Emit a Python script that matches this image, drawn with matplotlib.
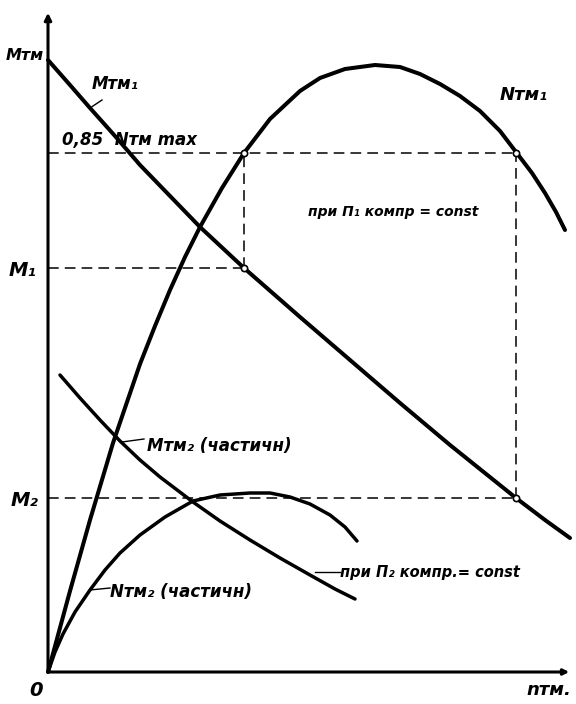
import numpy as np
import matplotlib.pyplot as plt

# curves (n_tm along x, moment / power up)
m1_n = [0, 22, 42, 67, 92, 122, 152, 196, 252, 302, 352, 402, 468, 497, 522]
m1_v = [612, 587, 564, 536, 507, 476, 445, 404, 355, 312, 269, 227, 174, 152, 134]

n1_n = [0, 22, 42, 65, 92, 107, 122, 137, 152, 174, 196, 222, 252, 272, 297, 327, 352,
        372, 392, 412, 432, 452, 468, 484, 497, 508, 517]
n1_v = [0, 81, 152, 229, 308, 346, 382, 415, 445, 484, 519, 553, 581, 594, 603, 607, 605,
        598, 588, 576, 561, 541, 520, 499, 479, 460, 442]

m2_n = [12, 32, 52, 72, 92, 112, 145, 172, 202, 232, 262, 287, 307]
m2_v = [297, 274, 252, 231, 212, 195, 170, 151, 132, 114, 97, 83, 73]

n2_n = [0, 7, 15, 27, 42, 57, 72, 92, 117, 145, 172, 202, 222, 242, 262, 282, 297, 309]
n2_v = [0, 20, 38, 60, 82, 102, 119, 137, 155, 171, 177, 179, 179, 175, 168, 157, 145, 131]

# operating points
n_a, n_b = 196, 468
lvl_N = 519     # 0,85 N max
lvl_M1 = 404
lvl_M2 = 174

fig = plt.figure(figsize=(5.76, 7.04), dpi=100)
ax = fig.add_axes([0, 0, 1, 1])
ax.set_xlim(-48, 528)
ax.set_ylim(-32, 672)
ax.axis('off')

fnt = dict(family='DejaVu Sans', style='italic', weight='bold', color='black')

# axes with arrows
ax.annotate('', xy=(0, 662), xytext=(0, -2),
            arrowprops=dict(arrowstyle='-|>', lw=2.2, color='black', mutation_scale=10))
ax.annotate('', xy=(524, 0), xytext=(-2, 0),
            arrowprops=dict(arrowstyle='-|>', lw=2.2, color='black', mutation_scale=8))

# dashed construction lines
dash = dict(color='black', lw=1.1, ls=(0, (7, 4)))
ax.plot([0, n_b], [lvl_N, lvl_N], **dash)
ax.plot([0, n_a], [lvl_M1, lvl_M1], **dash)
ax.plot([0, n_b], [lvl_M2, lvl_M2], **dash)
ax.plot([n_a, n_a], [lvl_M1, lvl_N], **dash)
ax.plot([n_b, n_b], [lvl_M2, lvl_N], **dash)

# curves
ln = dict(color='black', solid_capstyle='round', solid_joinstyle='round')
ax.plot(m1_n, m1_v, lw=2.9, **ln)
ax.plot(n1_n, n1_v, lw=2.9, **ln)
ax.plot(m2_n, m2_v, lw=2.5, **ln)
ax.plot(n2_n, n2_v, lw=2.5, **ln)

# small circles at points
ax.plot([n_a, n_a, n_b, n_b], [lvl_N, lvl_M1, lvl_N, lvl_M2], 'o',
        ms=4.5, mfc='white', mec='black', mew=1.2, zorder=5)

# leaders
ax.plot([42, 54], [564, 572], color='black', lw=1.0)
ax.plot([74, 96], [230, 233], color='black', lw=1.0)
ax.plot([42, 62], [82, 84], color='black', lw=1.0)
ax.plot([267, 292], [100, 100], color='black', lw=1.0)

# labels
ax.text(-4, 617, 'Mтм', ha='right', va='center', fontsize=11.5, **fnt)
ax.text(44, 588, 'Mтм₁', ha='left', va='center', fontsize=12, **fnt)
ax.text(14, 532, '0,85  Nтм max', ha='left', va='center', fontsize=12, **fnt)
ax.text(452, 577, 'Nтм₁', ha='left', va='center', fontsize=13, **fnt)
ax.text(-12, 402, 'M₁', ha='right', va='center', fontsize=14, **fnt)
ax.text(-10, 172, 'M₂', ha='right', va='center', fontsize=14, **fnt)
ax.text(-5, -18, '0', ha='right', va='center', fontsize=14, **fnt)
ax.text(478, -18, 'nтм.', ha='left', va='center', fontsize=13, **fnt)
ax.text(260, 460, 'при П₁ компр = const', ha='left', va='center', fontsize=10, **fnt)
ax.text(99, 226, 'Mтм₂ (частичн)', ha='left', va='center', fontsize=12, **fnt)
ax.text(62, 80, 'Nтм₂ (частичн)', ha='left', va='center', fontsize=12, **fnt)
ax.text(292, 99, 'при П₂ компр.= const', ha='left', va='center', fontsize=10.5, **fnt)

fig.savefig('out.png', dpi=100, facecolor='white')
